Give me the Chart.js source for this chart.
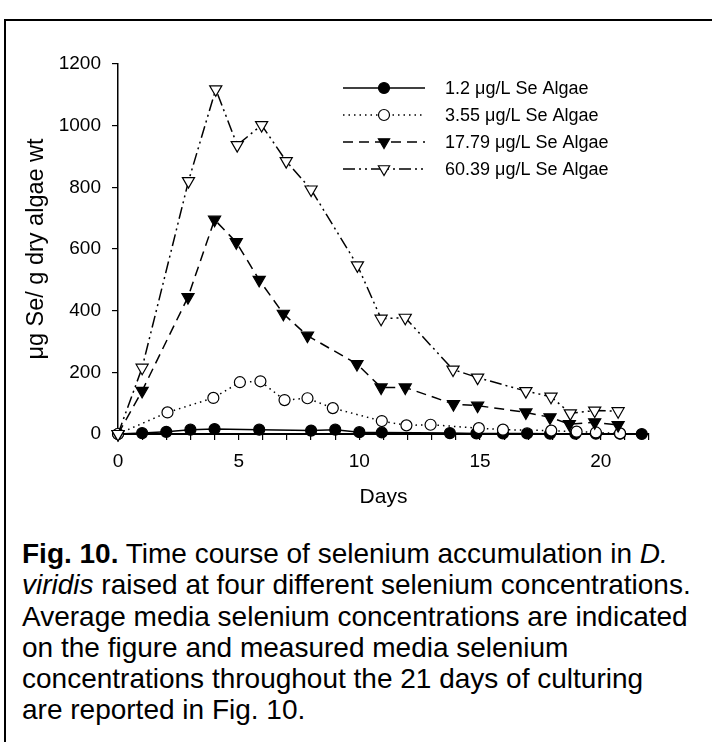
<!DOCTYPE html>
<html lang="en">
<head>
<meta charset="UTF-8">
<title>Fig. 10 selenium accumulation</title>
<style>
  body { margin: 0; background: #fff; font-family: 'Liberation Sans', Arial, sans-serif; }
  #frame { position: absolute; left: 4px; top: 19px; width: 720px; height: 740px;
           border-left: 2px solid #000; border-top: 2px solid #000; }
  #wrap { position: absolute; left: 0; top: 0; width: 712px; height: 520px; }
  #caption { position: absolute; left: 22px; top: 538px; font-size: 28px; line-height: 31.3px;
             white-space: nowrap; color: #000; }
</style>
</head>
<body>
<div id="frame"></div>
<div id="wrap"><canvas id="seChart"></canvas></div>
<div id="caption"><b>Fig. 10.</b> Time course of selenium accumulation in <i>D.</i><br><i>viridis</i> raised at four different selenium concentrations.<br>Average media selenium concentrations are indicated<br>on the figure and measured media selenium<br>concentrations throughout the 21 days of culturing<br>are reported in Fig. 10.</div>
<script src="https://cdn.jsdelivr.net/npm/chart.js"></script>
<script>
  // series labels
  const labels = ['1.2 μg/L Se Algae', '3.55 μg/L Se Algae', '17.79 μg/L Se Algae', '60.39 μg/L Se Algae'];

  // 1.2 ug/L
  const days1 = [0, 1, 2, 3, 4, 5.85, 8, 9, 10, 10.93, 13.75, 14.85, 15.95, 16.95, 17.9, 18.95, 19.8, 20.8, 21.7];
  const se1 = [0, 3, 7, 14, 16, 14, 11, 14, 6, 5, 3, 2, 2, 2, 1, 1, 1, 1, 0];

  // 3.55 ug/L
  const days2 = [0, 2.05, 3.95, 5.05, 5.9, 6.9, 7.85, 8.9, 10.93, 11.95, 12.95, 14.95, 15.95, 17.95, 19, 19.8, 20.8];
  const se2 = [0, 70, 117, 168, 171, 110, 116, 84, 42, 28, 30, 19, 14, 11, 7.5, 5, 2];

  // 17.79 ug/L
  const days3 = [0, 1, 2.9, 4, 4.9, 5.85, 6.85, 7.85, 9.9, 10.9, 11.9, 13.9, 14.9, 16.9, 17.9, 18.7, 19.75, 20.72];
  const se3 = [0, 140, 444, 695, 622, 500, 390, 319, 227, 151, 151, 97, 92, 70, 54, 32, 38, 29];

  // 60.39 ug/L
  const days4 = [0, 1, 2.92, 4.05, 4.94, 5.95, 6.97, 8, 9.92, 10.9, 11.9, 13.88, 14.9, 16.9, 17.94, 18.74, 19.75, 20.72];
  const se4 = [0, 215, 820, 1118, 937, 1002, 885, 793, 547, 374, 377, 209, 183, 139, 121, 67, 76, 74];

  const yTicks = [0, 200, 400, 600, 800, 1000, 1200];
  const xLabelled = [0, 5, 10, 15, 20];

  const FONT = "'Liberation Sans', Arial, sans-serif";

  function pts(xs, ys) {
    return xs.map((x, i) => ({ x: x, y: ys[i] }));
  }

  const datasets = [
    { label: labels[0], data: pts(days1, se1), borderDash: [], pointStyle: 'circle', rotation: 0,
      pointRadius: 5.5, pointBackgroundColor: '#000', order: 4 },
    { label: labels[1], data: pts(days2, se2), borderDash: [1.5, 4], pointStyle: 'circle', rotation: 0,
      pointRadius: 5.5, pointBackgroundColor: '#fff', order: 3 },
    { label: labels[2], data: pts(days3, se3), borderDash: [10, 6], pointStyle: 'triangle', rotation: 180,
      pointRadius: 7, pointBackgroundColor: '#000', order: 2 },
    { label: labels[3], data: pts(days4, se4), borderDash: [12, 4, 2, 4, 2, 4], pointStyle: 'triangle', rotation: 180,
      pointRadius: 7, pointBackgroundColor: '#fff', order: 1 }
  ].map(d => Object.assign({
    showLine: true,
    borderColor: '#000',
    borderWidth: 1.5,
    pointBorderColor: '#000',
    pointBorderWidth: 1.2,
    tension: 0,
    clip: false
  }, d));

  // legend drawn as line + marker like the original figure
  function drawMarker(ctx, style, x, y, r, fill) {
    ctx.save();
    ctx.setLineDash([]);
    ctx.lineWidth = 1.2;
    ctx.strokeStyle = '#000';
    ctx.fillStyle = fill;
    ctx.beginPath();
    if (style === 'circle') {
      ctx.arc(x, y, r, 0, Math.PI * 2);
    } else {
      ctx.moveTo(x, y + r);
      ctx.lineTo(x - r * 0.866, y - r / 2);
      ctx.lineTo(x + r * 0.866, y - r / 2);
      ctx.closePath();
    }
    ctx.fill();
    ctx.stroke();
    ctx.restore();
  }

  const lineLegend = {
    id: 'lineLegend',
    afterDatasetsDraw(chart) {
      const ctx = chart.ctx;
      const rows = [88, 115, 142, 169];
      chart.data.datasets.forEach((ds, i) => {
        const y = rows[i];
        ctx.save();
        ctx.strokeStyle = '#000';
        ctx.lineWidth = 1.5;
        ctx.setLineDash(ds.borderDash);
        ctx.beginPath();
        ctx.moveTo(343, y);
        ctx.lineTo(425, y);
        ctx.stroke();
        ctx.restore();
        drawMarker(ctx, ds.pointStyle, 384, y, ds.pointStyle === 'circle' ? 5.5 : 6.5, ds.pointBackgroundColor);
        ctx.save();
        ctx.fillStyle = '#000';
        ctx.font = '18px ' + FONT;
        ctx.textBaseline = 'middle';
        ctx.fillText(ds.label, 445, y + 1);
        ctx.restore();
      });
    }
  };

  new Chart(document.getElementById('seChart'), {
    type: 'scatter',
    data: { datasets: datasets },
    plugins: [lineLegend],
    options: {
      responsive: true,
      maintainAspectRatio: false,
      animation: false,
      layout: { padding: { left: 10, right: 63, top: 64, bottom: 10 } },
      plugins: { legend: { display: false }, tooltip: { enabled: false } },
      scales: {
        x: {
          type: 'linear',
          min: 0,
          max: 22,
          afterFit: s => { s.height = 76; },
          afterBuildTicks: s => { s.ticks = []; for (let d = 0; d <= 22; d++) s.ticks.push({ value: d }); },
          ticks: {
            autoSkip: false,
            maxRotation: 0,
            padding: 10,
            color: '#000',
            font: { family: FONT, size: 19 },
            callback: v => xLabelled.includes(v) ? String(v) : ''
          },
          grid: { drawOnChartArea: false, drawTicks: true, tickLength: 6, color: '#000', lineWidth: 1.2 },
          border: { display: true, color: '#000', width: 2 },
          title: { display: true, text: 'Days', color: '#000', font: { family: FONT, size: 21 }, padding: { top: 0, bottom: 0 } }
        },
        y: {
          min: 0,
          max: 1200,
          afterFit: s => { s.width = 108; },
          afterBuildTicks: s => { s.ticks = yTicks.map(v => ({ value: v })); },
          ticks: {
            padding: 11,
            color: '#000',
            font: { family: FONT, size: 19 },
            callback: v => String(v)
          },
          grid: { drawOnChartArea: false, drawTicks: true, tickLength: 6, color: '#000', lineWidth: 1.2 },
          border: { display: true, color: '#000', width: 1.5 },
          title: { display: true, text: 'μg Se/ g dry algae wt', color: '#000', font: { family: FONT, size: 23.5 }, padding: { top: 12, bottom: 0 } }
        }
      }
    }
  });
</script>
</body>
</html>
